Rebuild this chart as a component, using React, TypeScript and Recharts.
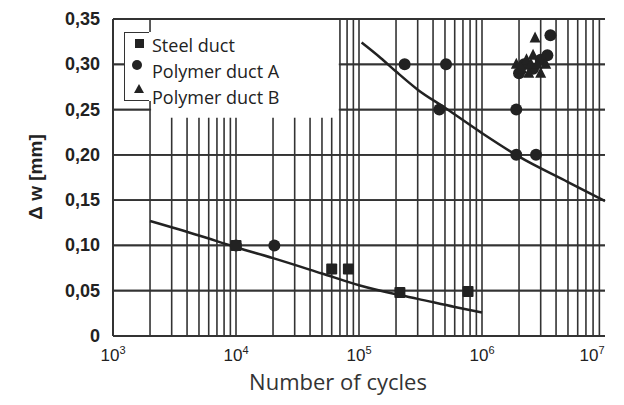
import React from "react";
import { CartesianGrid, ComposedChart, Line, ReferenceArea, ReferenceLine, Scatter, XAxis, YAxis } from "recharts";

// measured points (Number of cycles, delta w in mm)
const steelN = [1e4, 6e4, 8.2e4, 2.15e5, 7.7e5];
const steelDw = [0.1, 0.074, 0.074, 0.048, 0.049];

const polyAN = [1e4, 2.05e4, 2.35e5, 5.1e5, 4.5e5, 1.9e6, 1.9e6, 2.75e6, 2.0e6, 2.2e6, 2.6e6, 3.0e6, 3.4e6, 3.6e6];
const polyADw = [0.1, 0.1, 0.3, 0.3, 0.25, 0.25, 0.2, 0.2, 0.29, 0.3, 0.295, 0.305, 0.31, 0.332];

const polyBN = [1.9e6, 2.1e6, 2.3e6, 2.4e6, 2.5e6, 2.6e6, 2.8e6, 3.0e6, 3.3e6, 2.7e6];
const polyBDw = [0.3, 0.295, 0.305, 0.29, 0.3, 0.31, 0.3, 0.29, 0.3, 0.329];

// fitted curves
const steelFitN = [2e3, 5e3, 1e4, 2e4, 5e4, 1e5, 2e5, 3e5, 6e5, 1e6];
const steelFitDw = [0.127, 0.111, 0.098, 0.086, 0.069, 0.056, 0.046, 0.041, 0.032, 0.026];

const polyFitN = [1.05e5, 1.5e5, 2e5, 3e5, 5e5, 1e6, 2e6, 5e6, 1e7];
const polyFitDw = [0.324, 0.307, 0.292, 0.272, 0.252, 0.224, 0.198, 0.17, 0.149];

const xDecades = [1e3, 1e4, 1e5, 1e6, 1e7];
const minorSteps = [1, 2, 3, 4, 5, 6, 7, 8, 9];
const yTicks = [0, 0.05, 0.1, 0.15, 0.2, 0.25, 0.3, 0.35];

const zip = (xs: number[], ys: number[]) => xs.map((x, i) => ({ x, y: ys[i] }));

const steelData = zip(steelN, steelDw);
const polyAData = zip(polyAN, polyADw);
const polyBData = zip(polyBN, polyBDw);
const steelFit = zip(steelFitN, steelFitDw);
const polyFit = zip(polyFitN, polyFitDw);

// inner vertical log lines (the frame comes from the axis lines)
const innerX = xDecades.slice(0, -1).flatMap((d) => minorSteps.map((m) => m * d)).filter((v) => v > 1e3);

// inner horizontal pieces [y, from, to]; 0.25 / 0.30 are broken in the top-left
const hPieces: [number, number, number][] = yTicks
  .filter((gy) => gy > 0 && gy < 0.35)
  .flatMap((gy): [number, number, number][] =>
    gy === 0.25 || gy === 0.3
      ? [
          [gy, 1.001e3, 2e3],
          [gy, 7e4, 9.99e6],
        ]
      : [[gy, 1.001e3, 9.99e6]]
  );

const INK = "#222";
const GRID = "#333";
const FRAME = { stroke: GRID, strokeWidth: 2 };

const XTick = (props: any) => {
  const { x, y, payload } = props;
  const exp = Math.round(Math.log10(payload.value));
  return (
    <text x={x} y={y + 17} textAnchor="middle" fontFamily="'Liberation Sans', Arial" fontSize={17} fill={INK}>
      <tspan>10</tspan>
      <tspan dy={-7} fontSize={11}>
        {exp}
      </tspan>
    </text>
  );
};

const YTick = (props: any) => {
  const { x, y, payload } = props;
  const label = payload.value === 0 ? "0" : payload.value.toFixed(2).replace(".", ",");
  return (
    <text x={x - 5} y={y + 6} textAnchor="end" fontFamily="'Liberation Sans', Arial" fontWeight="bold" fontSize={18} fill={INK}>
      {label}
    </text>
  );
};

const YTitle = () => (
  <text
    x={35}
    y={177}
    transform="rotate(-90 35 177)"
    textAnchor="middle"
    dominantBaseline="central"
    fontFamily="'Liberation Sans', Arial"
    fontWeight="bold"
    fontSize={19}
    fill={INK}
  >
    Δ w [mm]
  </text>
);

const XTitle = () => (
  <text x={338} y={390} textAnchor="middle" fontFamily="'Open Sans', sans-serif" fontSize={22} fill="#333">
    Number of cycles
  </text>
);

const square = (s: number) => (p: any) => <rect x={p.cx - s / 2} y={p.cy - s / 2} width={s} height={s} fill={INK} rx={1} />;
const circle = (r: number) => (p: any) => <circle cx={p.cx} cy={p.cy} r={r} fill={INK} />;
const triangle = (s: number) => (p: any) => (
  <polygon
    points={`${p.cx},${p.cy - s * 0.6} ${p.cx - s / 2},${p.cy + s * 0.4} ${p.cx + s / 2},${p.cy + s * 0.4}`}
    fill={INK}
  />
);

function LegendBox() {
  const text: React.CSSProperties = {
    position: "absolute",
    left: 28,
    fontFamily: "'Open Sans', sans-serif",
    fontSize: 18,
    color: INK,
    whiteSpace: "nowrap",
    lineHeight: "20px",
  };
  return (
    <div style={{ position: "absolute", left: 124, top: 32, width: 170, height: 69, background: "#fff" }}>
      <div
        style={{
          position: "absolute",
          left: 0,
          top: 0,
          width: 24,
          height: 67,
          borderLeft: `1.6px solid ${GRID}`,
          borderTop: `1.6px solid ${GRID}`,
          borderBottom: `1.6px solid ${GRID}`,
        }}
      />
      <svg width={30} height={72} style={{ position: "absolute", left: 0, top: 0 }}>
        <rect x={11} y={7} width={9} height={9} fill={INK} />
        <circle cx={13} cy={33} r={5} fill={INK} />
        <polygon points="15,52 10,61 20,61" fill={INK} />
      </svg>
      <span style={{ ...text, top: 3 }}>Steel duct</span>
      <span style={{ ...text, top: 29 }}>Polymer duct A</span>
      <span style={{ ...text, top: 55 }}>Polymer duct B</span>
    </div>
  );
}

export default function App() {
  return (
    <div style={{ position: "absolute", left: 0, top: 0, width: 624, height: 405, background: "#fff" }}>
      <ComposedChart width={624} height={405} margin={{ top: 19, right: 19, bottom: 0, left: 0 }}>
        <CartesianGrid stroke={GRID} strokeWidth={1.8} vertical={false} />
        <XAxis
          type="number"
          dataKey="x"
          scale="log"
          domain={[1e3, 1e7]}
          ticks={xDecades}
          tick={<XTick />}
          tickLine={false}
          axisLine={FRAME}
          height={69}
          label={<XTitle />}
        />
        <XAxis xAxisId="top" orientation="top" type="number" scale="log" domain={[1e3, 1e7]} height={0} tick={false} tickLine={false} axisLine={FRAME} />
        <YAxis
          type="number"
          dataKey="y"
          domain={[0, 0.35]}
          ticks={yTicks}
          tick={<YTick />}
          tickLine={false}
          axisLine={FRAME}
          width={113}
          label={<YTitle />}
        />
        <YAxis yAxisId="right" orientation="right" type="number" domain={[0, 0.35]} width={0} tick={false} tickLine={false} axisLine={FRAME} />

        {/* blank patch top-left where the grid is left out */}
        <ReferenceArea x1={2.04e3} x2={6.85e4} y1={0.2415} y2={0.3465} fill="#fff" fillOpacity={1} stroke="none" />

        {/* horizontal grid as thin bands */}
        {hPieces.map(([gy, a, b]) => (
          <ReferenceArea key={`h${gy}-${a}`} x1={a} x2={b} y1={gy - 0.001} y2={gy + 0.001} fill={GRID} fillOpacity={1} stroke="none" />
        ))}

        {innerX.map((gx) => {
          const short = gx > 2e3 && gx < 7e4;
          return (
            <ReferenceLine
              key={`v${gx}`}
              segment={[
                { x: gx, y: 0.0001 },
                { x: gx, y: short ? 0.241 : 0.3499 },
              ]}
              stroke={GRID}
              strokeWidth={1.6}
            />
          );
        })}

        <Line data={steelFit} dataKey="y" type="monotone" stroke={INK} strokeWidth={2.5} dot={false} activeDot={false} isAnimationActive={false} />
        <Line data={polyFit} dataKey="y" type="monotone" stroke={INK} strokeWidth={2.5} dot={false} activeDot={false} isAnimationActive={false} />

        <Scatter data={steelData} shape={square(11)} isAnimationActive={false} />
        <Scatter data={polyAData} shape={circle(6)} isAnimationActive={false} />
        <Scatter data={polyBData} shape={triangle(11)} isAnimationActive={false} />
      </ComposedChart>
      <LegendBox />
    </div>
  );
}
